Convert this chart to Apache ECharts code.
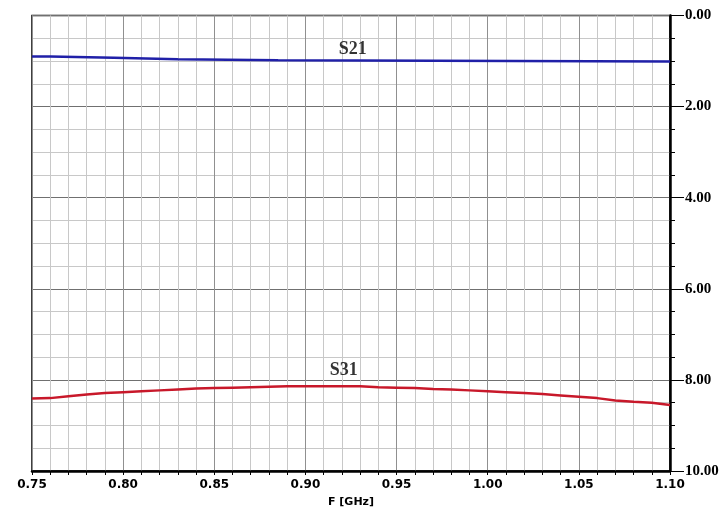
<!DOCTYPE html>
<html>
<head>
<meta charset="utf-8">
<script src="https://cdn.jsdelivr.net/npm/echarts@6/dist/echarts.min.js"></script>
<style>html,body{margin:0;padding:0;background:#fff;overflow:hidden}#c{width:725px;height:513px}</style>
</head>
<body>
<div id="c"></div>
<script>
// Frequency (GHz) and magnitude (dB, shown positive downward)
const s21Freq = [0.75, 0.76, 0.795, 0.83, 0.885, 1.10];
const s21Vals = [0.90, 0.93, 0.96, 0.985, 1.01, 1.01];

const s31Freq = [0.75,0.76,0.77,0.78,0.79,0.80,0.81,0.82,0.83,0.84,0.85,0.86,0.87,0.88,0.89,0.90,0.91,0.92,0.93,0.94,0.95,0.96,0.97,0.98,0.99,1.00,1.01,1.02,1.03,1.04,1.05,1.06,1.07,1.08,1.09,1.10];
const s31Vals = [8.41,8.40,8.36,8.32,8.29,8.27,8.25,8.23,8.21,8.19,8.18,8.17,8.16,8.15,8.14,8.14,8.14,8.14,8.14,8.16,8.17,8.18,8.20,8.21,8.23,8.25,8.27,8.29,8.31,8.34,8.37,8.40,8.45,8.48,8.50,8.55];

const seriesNames = ['S21', 'S31'];
const labelPos = [[0.926, 0.74], [0.921, 7.79]];
const xTitle = 'F [GHz]';

const chart = echarts.init(document.getElementById('c'), null, {width: 725, height: 513});
const pair = (xs, ys) => xs.map((x, i) => [x, ys[i]]);
const nameLabel = {show: true, position: 'inside', formatter: p => p.value[2], fontFamily: 'Liberation Serif', fontWeight: 'bold', fontSize: 18, color: '#000'};

chart.setOption({
  animation: false,
  backgroundColor: '#fff',
  grid: {left: 32, right: 55, top: 15.5, bottom: 42, outerBoundsMode: 'none', containLabel: false,
    show: true, borderColor: '#000', borderWidth: 1.5, backgroundColor: 'transparent'},
  xAxis: {
    type: 'value', min: 0.75, max: 1.10, interval: 0.05,
    name: xTitle, nameLocation: 'middle', nameGap: 26,
    nameTextStyle: {fontFamily: 'DejaVu Sans', fontWeight: 'bold', fontSize: 11, color: '#000'},
    axisLine: {show: true, onZero: false, lineStyle: {color: '#000', width: 2.5}},
    axisTick: {show: true, length: 4, lineStyle: {color: '#000', width: 1}},
    minorTick: {show: true, splitNumber: 5, length: 4, lineStyle: {color: '#000', width: 1}},
    axisLabel: {margin: 8, fontFamily: 'DejaVu Sans', fontWeight: 'bold', fontSize: 12, color: '#000',
      formatter: v => v.toFixed(2)},
    splitLine: {show: true, lineStyle: {color: '#909090', width: 1}},
    minorSplitLine: {show: true, lineStyle: {color: '#c8c8c8', width: 1}}
  },
  yAxis: {
    type: 'value', min: 0, max: 10, interval: 2, inverse: true, position: 'right',
    axisLine: {show: true, lineStyle: {color: '#000', width: 2.5}},
    axisTick: {show: true, length: 14, lineStyle: {color: '#000', width: 1}},
    minorTick: {show: true, splitNumber: 4, length: 5, lineStyle: {color: '#000', width: 1}},
    axisLabel: {margin: 15, fontFamily: 'Liberation Serif', fontWeight: 'bold', fontSize: 15, color: '#000',
      formatter: v => v.toFixed(2)},
    splitLine: {show: true, lineStyle: {color: '#707070', width: 1}},
    minorSplitLine: {show: true, lineStyle: {color: '#c8c8c8', width: 1}}
  },
  series: [
    {
      name: seriesNames[0], type: 'line', step: 'end', showSymbol: false,
      data: pair(s21Freq, s21Vals),
      lineStyle: {color: '#2020a8', width: 2.5}
    },
    {
      name: seriesNames[1], type: 'line', showSymbol: false,
      data: pair(s31Freq, s31Vals),
      lineStyle: {color: '#c8182a', width: 2.5}
    },
    {
      type: 'scatter', symbolSize: 1, itemStyle: {color: 'rgba(0,0,0,0)'},
      data: labelPos.map((p, i) => [p[0], p[1], seriesNames[i]]),
      label: nameLabel, silent: true
    }
  ]
});
</script>
</body>
</html>
